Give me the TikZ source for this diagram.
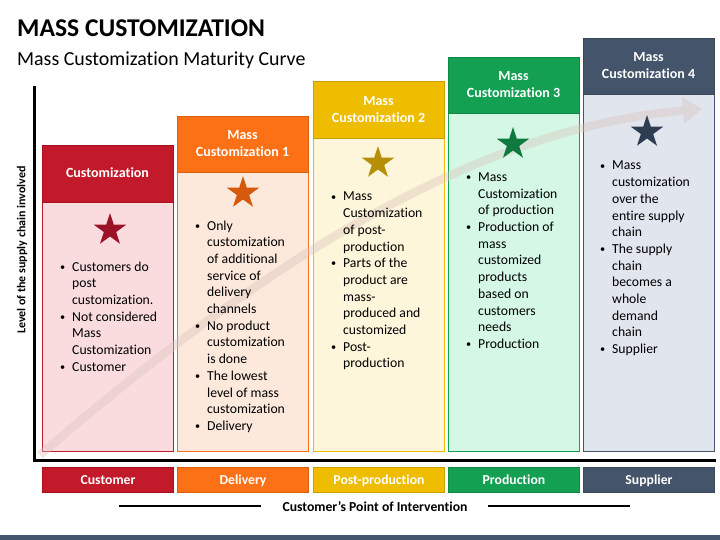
\documentclass[tikz,border=0pt]{standalone}
\usepackage{graphicx}
\usepackage{fontspec}
\setmainfont{Carlito}[Ligatures=NoCommon]
\usetikzlibrary{shapes.geometric,arrows.meta}
\definecolor{cred}{HTML}{C21A2B}\definecolor{credb}{HTML}{FADCDF}\definecolor{creds}{HTML}{9B1327}\definecolor{credd}{HTML}{A8101F}
\definecolor{cora}{HTML}{FC7016}\definecolor{corab}{HTML}{FDE9DC}\definecolor{coras}{HTML}{D55A0B}\definecolor{corad}{HTML}{D9600F}
\definecolor{cyel}{HTML}{EEBD00}\definecolor{cyelb}{HTML}{FEF6DB}\definecolor{cyels}{HTML}{B78F07}\definecolor{cyeld}{HTML}{C9A000}
\definecolor{cgrn}{HTML}{13A053}\definecolor{cgrnb}{HTML}{D5F8E6}\definecolor{cgrns}{HTML}{0F7A40}\definecolor{cgrnd}{HTML}{0F8A46}
\definecolor{cgry}{HTML}{44546A}\definecolor{cgryb}{HTML}{E1E5EE}\definecolor{cgrys}{HTML}{2F3D52}\definecolor{cgryd}{HTML}{3A4759}
\definecolor{arrowc}{HTML}{D9C3BA}
\newcommand\bitm[1]{\hbox{\llap{\makebox[12pt][l]{\raisebox{0.8pt}{\scalebox{0.75}{\textbullet}}}}#1}}
\newcommand\citm[1]{\hbox{#1}}
\tikzset{
  hdr/.style={minimum width=131pt, anchor=north west, inner sep=0pt, line width=1pt},
  bodybox/.style={minimum width=131pt, anchor=north west, inner sep=0pt, line width=1pt},
  htxt/.style={anchor=base, inner sep=0pt, text=white, font=\fontsize{14}{17}\selectfont\bfseries},
  btxt/.style={anchor=base west, inner sep=0pt, font=\fontsize{13.7}{16.7}\selectfont},
  starn/.style={star, star points=5, star point ratio=2.618, minimum size=34pt, inner sep=0pt, draw=none},
  lab/.style={minimum width=131pt, minimum height=25pt, anchor=north west, inner sep=0pt, line width=1pt,
    text=white, font=\fontsize{13.7}{16}\selectfont\bfseries, text height=12pt, text depth=3pt},
}
\begin{document}
\begin{tikzpicture}[x=1pt,y=-1pt]
\useasboundingbox (0,0) rectangle (720,540);
% title
\node[anchor=base west, inner sep=0pt, font=\fontsize{25.6}{30}\selectfont\bfseries] (title) at (17,37) {MASS CUSTOMIZATION};
\node[anchor=base west, inner sep=0pt, font=\fontsize{19.9}{24}\selectfont] (sub) at (17,66) {Mass Customization Maturity Curve};
% bodies
\node[bodybox, fill=credb, draw=cred, minimum height=249pt] (b1) at (42,202) {};
\node[bodybox, fill=corab, draw=cora, minimum height=279pt] (b2) at (177,172) {};
\node[bodybox, fill=cyelb, draw=cyel, minimum height=313pt] (b3) at (313,138) {};
\node[bodybox, fill=cgrnb, draw=cgrn, minimum height=338pt] (b4) at (448,113) {};
\node[bodybox, fill=cgryb, draw=cgry, minimum height=357pt] (b5) at (583,94) {};
% headers
\node[hdr, fill=cred, draw=credd, minimum height=57pt] (h1) at (42,145) {};
\node[hdr, fill=cora, draw=corad, minimum height=56pt] (h2) at (177,116) {};
\node[hdr, fill=cyel, draw=cyeld, minimum height=57pt] (h3) at (313,81) {};
\node[hdr, fill=cgrn, draw=cgrnd, minimum height=56pt] (h4) at (448,57) {};
\node[hdr, fill=cgry, draw=cgryd, minimum height=56pt] (h5) at (583,38) {};
\node[htxt] (ht1) at (107.5,178) {Customization};
\node[htxt] (ht2) at (242.5,140) {\vtop{\halign{\hfil#\hfil\cr Mass\cr Customization 1\cr}}};
\node[htxt] (ht3) at (378.5,105.5) {\vtop{\halign{\hfil#\hfil\cr Mass\cr Customization 2\cr}}};
\node[htxt] (ht4) at (513.5,81) {\vtop{\halign{\hfil#\hfil\cr Mass\cr Customization 3\cr}}};
\node[htxt] (ht5) at (648.5,62) {\vtop{\halign{\hfil#\hfil\cr Mass\cr Customization 4\cr}}};
% curve arrow
\begin{scope}[transparency group, opacity=0.4]
\draw[arrowc, line width=8.5pt, -{Triangle[length=19pt,width=26pt]}] (40,455) .. controls (220,300) and (450,130) .. (702,109);
\end{scope}
% axes
\draw[line width=3pt] (34,86) -- (34,460) -- (716,460);
\node[rotate=90, inner sep=0pt, font=\fontsize{12}{14}\selectfont\bfseries] (ylab) at (22,250) {Level of the supply chain involved};
% stars
\node[starn, fill=creds] (s1) at (110,230) {};
\node[starn, fill=coras] (s2) at (243,193) {};
\node[starn, fill=cyels] (s3) at (378,163) {};
\node[starn, fill=cgrns] (s4) at (513,144) {};
\node[starn, fill=cgrys] (s5) at (647,132) {};
% body texts
\node[btxt] (t1) at (72,271) {\vtop{\bitm{Customers do}\citm{post}\citm{customization.}\bitm{Not considered}\citm{Mass}\citm{Customization}\bitm{Customer}}};
\node[btxt] (t2) at (207,230) {\vtop{\bitm{Only}\citm{customization}\citm{of additional}\citm{service of}\citm{delivery}\citm{channels}\bitm{No product}\citm{customization}\citm{is done}\bitm{The lowest}\citm{level of mass}\citm{customization}\bitm{Delivery}}};
\node[btxt] (t3) at (343,201) {\vtop{\bitm{Mass}\citm{Customization}\citm{of post-}\citm{production}\bitm{Parts of the}\citm{product are}\citm{mass-}\citm{produced and}\citm{customized}\bitm{Post-}\citm{production}}};
\node[btxt] (t4) at (478,181.5) {\vtop{\bitm{Mass}\citm{Customization}\citm{of production}\bitm{Production of}\citm{mass}\citm{customized}\citm{products}\citm{based on}\citm{customers}\citm{needs}\bitm{Production}}};
\node[btxt] (t5) at (612,170) {\vtop{\bitm{Mass}\citm{customization}\citm{over the}\citm{entire supply}\citm{chain}\bitm{The supply}\citm{chain}\citm{becomes a}\citm{whole}\citm{demand}\citm{chain}\bitm{Supplier}}};
% bottom labels
\node[lab, fill=cred, draw=credd] (l1) at (42,467) {Customer};
\node[lab, fill=cora, draw=corad] (l2) at (177,467) {Delivery};
\node[lab, fill=cyel, draw=cyeld] (l3) at (313,467) {Post-production};
\node[lab, fill=cgrn, draw=cgrnd] (l4) at (448,467) {Production};
\node[lab, fill=cgry, draw=cgryd] (l5) at (583,467) {Supplier};
% point of intervention
\node[anchor=base, inner sep=0pt, font=\fontsize{13.7}{16}\selectfont\bfseries] (cpi) at (375,511) {Customer’s Point of Intervention};
\draw[line width=2pt] (119,506) -- (261,506);
\draw[line width=2pt] (488,506) -- (630,506);
% bottom bar
\fill[cgry] (0,535) rectangle (720,540);
\end{tikzpicture}
\end{document}
